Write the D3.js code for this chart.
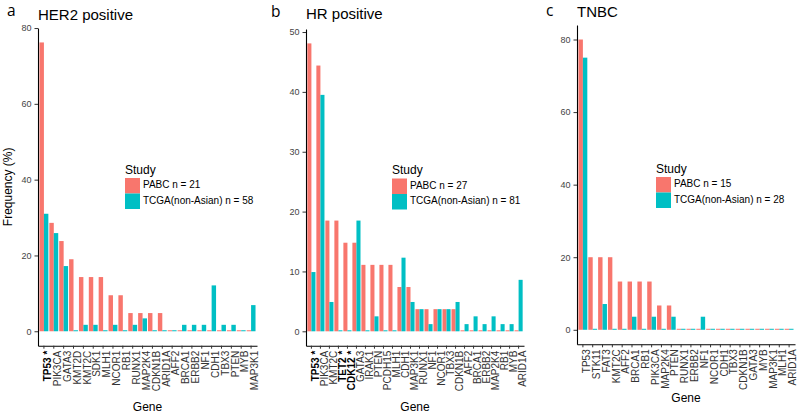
<!DOCTYPE html>
<html>
<head>
<meta charset="utf-8">
<script src="https://cdn.jsdelivr.net/npm/d3@7"></script>
<style>
  body { margin: 0; background: #fff; }
  text { font-family: "Liberation Sans", Arial, sans-serif; }
</style>
</head>
<body>
<div id="chart"></div>
<script>

// colours for the two studies (ggplot defaults)
var studyColors = ['#F8766D', '#00BFC4']

// ---- panel a : HER2 positive
var genesA = ['TP53 *', 'PIK3CA', 'GATA3', 'KMT2D', 'KMT2C', 'SDK1', 'MLH1', 'NCOR1', 'RB1', 'RUNX1', 'MAP2K4',
  'CDKN1B', 'ARID1A', 'AFF2', 'BRCA1', 'ERBB2', 'NF1', 'CDH1', 'TBX3', 'PTEN', 'MYB', 'MAP3K1']
var pabcA = [76.2, 28.6, 23.8, 19.0, 14.3, 14.3, 14.3, 9.5, 9.5, 4.8, 4.8, 4.8, 4.8, 0, 0, 0, 0, 0, 0, 0, 0, 0]
var tcgaA = [31.0, 25.9, 17.2, 0, 1.7, 1.7, 0, 1.7, 0, 1.7, 3.4, 0, 0, 0, 1.7, 1.7, 1.7, 12.1, 1.7, 1.7, 0, 6.9]
var ticksA = [0, 20, 40, 60, 80]
var legendA = ['PABC n = 21', 'TCGA(non-Asian) n = 58']

// ---- panel b : HR positive
var genesB = ['TP53 *', 'PIK3CA', 'KMT2C', 'TET2 *', 'CDK12 *', 'GATA3', 'IRAK1', 'PTEN', 'PCDH15', 'MLH1', 'CDH1',
  'MAP3K1', 'RUNX1', 'NF1', 'NCOR1', 'TBX3', 'CDKN1B', 'AFF2', 'BRCA1', 'ERBB2', 'MAP2K4', 'RB1', 'MYB', 'ARID1A']
var pabcB = [48.1, 44.4, 18.5, 18.5, 14.8, 14.8, 11.1, 11.1, 11.1, 11.1, 7.4, 7.4, 3.7, 3.7, 3.7, 3.7, 3.7, 0, 0, 0, 0, 0, 0, 0]
var tcgaB = [9.9, 39.5, 4.9, 0, 0, 18.5, 0, 2.5, 0, 0, 12.3, 4.9, 3.7, 1.2, 3.7, 3.7, 4.9, 1.2, 2.5, 1.2, 2.5, 1.2, 1.2, 8.6]
var ticksB = [0, 10, 20, 30, 40, 50]
var legendB = ['PABC n = 27', 'TCGA(non-Asian) n = 81']

// ---- panel c : TNBC
var genesC = ['TP53', 'STK11', 'FAT3', 'KMT2C', 'AFF2', 'BRCA1', 'RB1', 'PIK3CA', 'MAP2K4', 'PTEN', 'RUNX1',
  'ERBB2', 'NF1', 'NCOR1', 'CDH1', 'TBX3', 'CDKN1B', 'GATA3', 'MYB', 'MAP3K1', 'MLH1', 'ARID1A']
var pabcC = [80, 20, 20, 20, 13.3, 13.3, 13.3, 13.3, 6.7, 6.7, 0, 0, 0, 0, 0, 0, 0, 0, 0, 0, 0, 0]
var tcgaC = [75, 0, 7.1, 0, 0, 3.6, 0, 3.6, 0, 3.6, 0, 0, 3.6, 0, 0, 0, 0, 0, 0, 0, 0, 0]
var ticksC = [0, 20, 40, 60, 80]
var legendC = ['PABC n = 15', 'TCGA(non-Asian) n = 28']

var studies = ['PABC', 'TCGA']

var svg = d3.select('#chart').append('svg')
  .attr('width', 800)
  .attr('height', 415)

var panels = [
  {letter: 'a', title: 'HER2 positive', genes: genesA, vals: [pabcA, tcgaA], ticks: ticksA, legend: legendA,
   left: 38, right: 257, top: 28, bottom: 345.7, titleY: 20, letterX: 7, letterY: 16,
   legX: 125, legY: 178, geneY: 408, ylab: true},
  {letter: 'b', title: 'HR positive', genes: genesB, vals: [pabcB, tcgaB], ticks: ticksB, legend: legendB,
   left: 306, right: 524, top: 29, bottom: 345.7, titleY: 19, letterX: 271, letterY: 16.5,
   legX: 392, legY: 178.5, geneY: 408, ylab: false},
  {letter: 'c', title: 'TNBC', genes: genesC, vals: [pabcC, tcgaC], ticks: ticksC, legend: legendC,
   left: 577, right: 795, top: 25, bottom: 344.3, titleY: 17, letterX: 546, letterY: 16,
   legX: 656, legY: 177, geneY: 399, ylab: false}
]

panels.forEach(drawPanel)

function drawPanel(p) {
  var g = svg.append('g')

  var maxVal = d3.max(p.vals, function(s) { return d3.max(s) })
  var pad = maxVal * 0.05

  var x0 = d3.scaleBand()
    .domain(p.genes)
    .range([p.left, p.right])
    .paddingInner(0.1)
    .paddingOuter(0.15)

  var x1 = d3.scaleBand()
    .domain(studies)
    .range([0, x0.bandwidth()])

  var y = d3.scaleLinear()
    .domain([-pad, maxVal + pad])
    .range([p.bottom, p.top])

  // bars
  var rows = p.genes.map(function(gene, i) {
    return {gene: gene, vals: studies.map(function(s, j) { return {study: s, v: p.vals[j][i]} })}
  })

  g.selectAll('.grp')
      .data(rows)
    .enter().append('g')
      .attr('transform', function(d) { return 'translate(' + x0(d.gene) + ',0)' })
    .selectAll('rect')
      .data(function(d) { return d.vals })
    .enter().append('rect')
      .attr('x', function(d) { return x1(d.study) })
      .attr('width', x1.bandwidth())
      .attr('y', function(d) { return Math.min(y(d.v), y(0) - 1) })
      .attr('height', function(d) { return Math.max(y(0) - y(d.v), 1) })
      .style('fill', function(d, i) { return studyColors[i] })

  // axes
  var yAxis = d3.axisLeft(y)
    .tickValues(p.ticks)
    .tickSize(3.5)
    .tickSizeOuter(0)
    .tickPadding(3)

  var xAxis = d3.axisBottom(x0)
    .tickSize(3)
    .tickSizeOuter(0)
    .tickPadding(1.5)

  var ya = g.append('g')
    .attr('transform', 'translate(' + p.left + ',0)')
    .call(yAxis)
  ya.select('.domain').attr('stroke', '#000').attr('stroke-width', 1.1)
  ya.selectAll('.tick line').attr('stroke', '#333')
  ya.selectAll('.tick text')
    .style('font-family', '"Liberation Sans", Arial, sans-serif')
    .style('font-size', '9px')
    .attr('fill', '#444')

  var xa = g.append('g')
    .attr('transform', 'translate(0,' + p.bottom + ')')
    .call(xAxis)
  xa.select('.domain').attr('stroke', '#000').attr('stroke-width', 1.1)
  xa.selectAll('.tick line').attr('stroke', '#333')
  xa.selectAll('.tick text')
    .attr('transform', 'rotate(-90)')
    .attr('text-anchor', 'end')
    .attr('x', -5)
    .attr('y', 0)
    .attr('dy', '0.72em')
    .style('font-family', '"Liberation Sans", Arial, sans-serif')
    .style('font-size', '10px')
    .style('font-weight', function(d) { return d.indexOf('*') > -1 ? 'bold' : 'normal' })
    .attr('fill', function(d) { return d.indexOf('*') > -1 ? '#000' : '#333' })

  // titles
  g.append('text')
    .attr('x', p.letterX)
    .attr('y', p.letterY)
    .style('font-family', '"Open Sans", sans-serif')
    .style('font-size', '15.5px')
    .text(p.letter)

  g.append('text')
    .attr('x', p.left)
    .attr('y', p.titleY)
    .style('font-size', '15px')
    .text(p.title)

  g.append('text')
    .attr('x', (p.left + p.right) / 2)
    .attr('y', p.geneY)
    .attr('text-anchor', 'middle')
    .attr('dominant-baseline', 'middle')
    .style('font-size', '12px')
    .text('Gene')

  if (p.ylab) {
    g.append('text')
      .attr('transform', 'translate(9,' + (p.top + p.bottom) / 2 + ') rotate(-90)')
      .attr('text-anchor', 'middle')
      .attr('dominant-baseline', 'middle')
      .style('font-size', '12px')
      .text('Frequency (%)')
  }

  // legend
  var leg = g.append('g').attr('transform', 'translate(' + p.legX + ',' + p.legY + ')')
  leg.append('text')
    .attr('x', 0)
    .attr('y', -4.5)
    .style('font-size', '12px')
    .text('Study')
  p.legend.forEach(function(lab, i) {
    leg.append('rect')
      .attr('x', 0)
      .attr('y', i * 15.5)
      .attr('width', 15)
      .attr('height', 15.5)
      .style('fill', studyColors[i])
    leg.append('text')
      .attr('x', 18)
      .attr('y', i * 15.5 + 7.75)
      .attr('dominant-baseline', 'middle')
      .style('font-size', '10px')
      .text(lab)
  })
}
</script>
</body>
</html>
